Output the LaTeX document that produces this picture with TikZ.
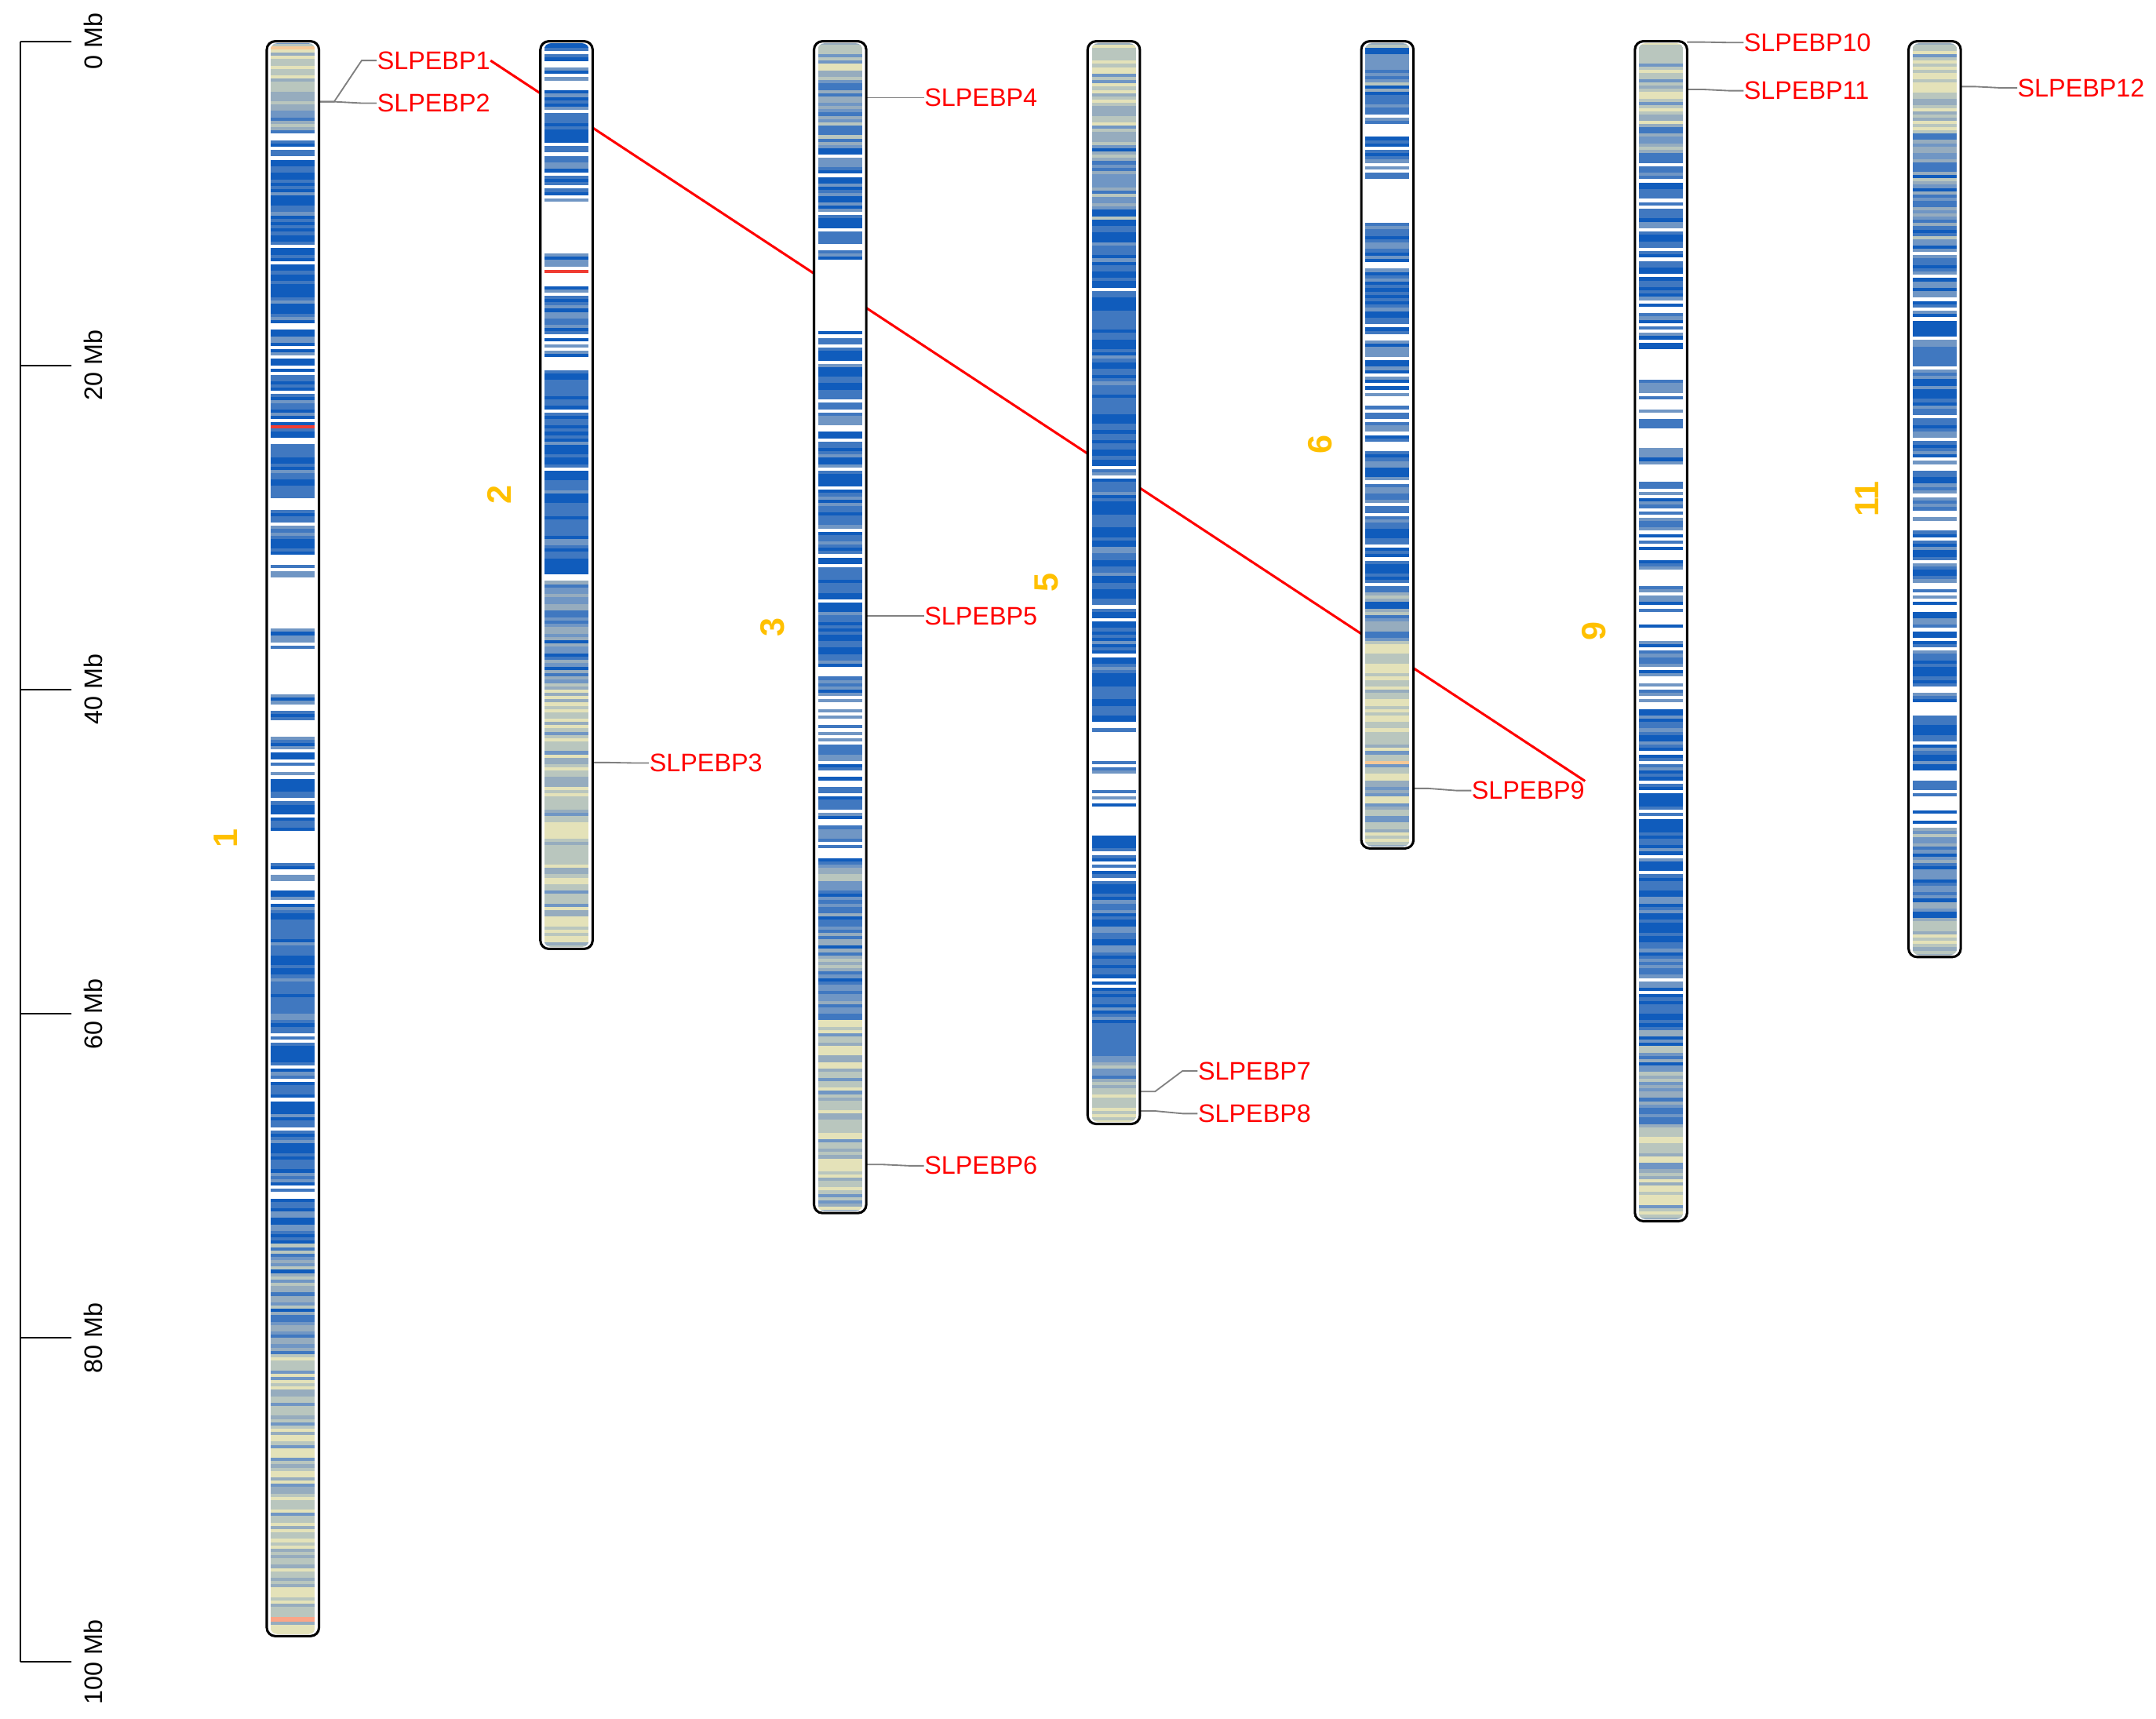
\documentclass[tikz,border=0pt]{standalone}
\usepackage{fontspec}
\setmainfont{Liberation Sans}
\usepackage{tikz}
\usetikzlibrary{calc}
\definecolor{bandD}{RGB}{16,92,188}
\definecolor{bandM}{RGB}{64,120,192}
\definecolor{bandL}{RGB}{112,150,196}
\definecolor{bandG}{RGB}{150,172,190}
\definecolor{bandH}{RGB}{185,198,190}
\definecolor{bandY}{RGB}{228,226,185}
\definecolor{bandO}{RGB}{245,200,150}
\definecolor{bandR}{RGB}{250,165,135}
\definecolor{bandX}{RGB}{240,60,50}
\definecolor{ChrGold}{RGB}{255,192,0}

% density palettes (10 entries each)
\def\palW{{"white","white","white","white","white","white","white","white","white","white"}}
\def\palS{{"white","white","white","white","white","bandD","bandM","bandM","bandL","bandL"}}
\def\palB{{"white","white","bandD","bandD","bandD","bandM","bandM","bandM","bandL","bandL"}}
\def\palD{{"white","bandD","bandD","bandD","bandD","bandM","bandM","bandM","bandL","bandM"}}
\def\palG{{"bandM","bandM","bandL","bandL","bandL","bandG","bandG","bandG","bandH","bandD"}}
\def\palP{{"bandG","bandG","bandH","bandH","bandH","bandY","bandY","bandL","bandH","bandY"}}
\def\palO{{"bandO","bandO","bandO","bandO","bandO","bandO","bandO","bandO","bandO","bandO"}}
\def\palR{{"bandR","bandR","bandR","bandR","bandR","bandR","bandR","bandR","bandR","bandR"}}
\def\palX{{"bandX","bandX","bandX","bandX","bandX","bandX","bandX","bandX","bandX","bandX"}}

% one zone of a chromosome: x, from, to (Mb), palette
\newcommand{\bandzone}[4]{%
  \pgfmathtruncatemacro{\nsl}{max(1,round((#3-#2)/0.2))}%
  \pgfmathsetmacro{\hsl}{(#3-#2)/\nsl}%
  \expandafter\let\expandafter\curpal\csname pal#4\endcsname
  \foreach \k in {1,...,\nsl}{%
    \pgfmathrandominteger{\rr}{0}{9}%
    \pgfmathparse{\curpal[\rr]}\edef\bc{\pgfmathresult}%
    \fill[\bc] (#1+3,{#2+(\k-1)*\hsl}) rectangle (#1+35,{#2+\k*\hsl+0.04});
  }%
}

% chromosome: x, length (Mb), zones, number
\newcommand{\chromo}[4]{%
  \fill[white, rounded corners=3.5pt] (#1,0) rectangle (#1+38,#2);
  \begin{scope}
    \clip[rounded corners=3pt] (#1+2.5,0.12) rectangle (#1+35.5,#2-0.12);
    \foreach \za/\zb/\zp in {#3}{\bandzone{#1}{\za}{\zb}{\zp}}
  \end{scope}
  \draw[chrline] (#1,0) rectangle (#1+38,#2);
  \node[chrnum] (c#4) at (#1-30,#2/2) {#4};
}

\begin{document}
\begin{tikzpicture}[x=0.02cm, y=-0.2358cm,
    chrline/.style={black, line width=1pt, rounded corners=3.5pt},
    chrnum/.style={text=ChrGold, font=\fontsize{14}{16}\selectfont\bfseries, rotate=90, inner sep=0pt},
    gene/.style={text=red, font=\fontsize{10.5}{12}\selectfont, inner sep=0pt, anchor=west},
    genelink/.style={gray, line width=0.6pt},
    synteny/.style={red, line width=1pt},
    scalebar/.style={black, line width=0.7pt},
    mblabel/.style={font=\fontsize{10.5}{12}\selectfont, rotate=90, inner sep=0pt}]
    \useasboundingbox (0,-2.545) rectangle (1568,103.49);
    \pgfmathsetseed{7}

%   scale bar
    \draw[scalebar] (15,0) -- (15,100);
    \foreach \m in {0,20,...,100} {
        \draw[scalebar] (15,\m) -- (52,\m);
        \node[mblabel] (mb\m) at (68,\m) {\m\ Mb};
    }

%   gene positions
    \coordinate (g1) at (232,3.73);
    \coordinate (g2) at (232,3.73);
    \coordinate (g3) at (431,44.5);
    \coordinate (g4) at (630,3.48);
    \coordinate (g5) at (630,35.45);
    \coordinate (g6) at (630,69.3);
    \coordinate (g7) at (829,64.8);
    \coordinate (g8) at (829,66.0);
    \coordinate (g9) at (1028,46.1);
    \coordinate (g10) at (1227,0.05);
    \coordinate (g11) at (1227,2.97);
    \coordinate (g12) at (1426,2.8);

%   gene labels
    \node[gene] (l1) at (274,1.19) {SLPEBP1};
    \node[gene] (l2) at (274,3.82) {SLPEBP2};
    \node[gene] (l3) at (472,44.53) {SLPEBP3};
    \node[gene] (l4) at (672,3.48) {SLPEBP4};
    \node[gene] (l5) at (672,35.45) {SLPEBP5};
    \node[gene] (l6) at (672,69.38) {SLPEBP6};
    \node[gene] (l7) at (871,63.53) {SLPEBP7};
    \node[gene] (l8) at (871,66.16) {SLPEBP8};
    \node[gene] (l9) at (1070,46.23) {SLPEBP9};
    \node[gene] (l10) at (1268,0.08) {SLPEBP10};
    \node[gene] (l11) at (1268,3.05) {SLPEBP11};
    \node[gene] (l12) at (1467,2.88) {SLPEBP12};

    \foreach \i in {1,...,12} {
        \draw[genelink] (g\i) -- ++(11,0) -- ($(l\i.west)+(-11,0)$) -- (l\i.west);
    }

%   segmental duplication
    \draw[synteny] (l1.east) -- (l9.north east);

%   chromosomes
    \chromo{194}{98.4}{0/0.3/P,0.3/0.5/O,0.5/3.3/P,3.3/5.7/G,5.7/6.1/W,6.1/16.8/D,16.8/18/S,18/20.2/B,20.2/23.7/D,23.7/23.9/X,23.9/28.2/D,28.2/28.9/W,28.9/33.3/B,33.3/35.6/W,35.6/37.5/S,37.5/39.3/W,39.3/41.9/S,41.9/42.9/W,42.9/48.7/B,48.7/50.7/W,50.7/51.8/S,51.8/52.4/W,52.4/70.2/D,70.2/71.4/S,71.4/74.2/D,74.2/81/G,81/97.2/P,97.2/97.5/R,97.5/98.4/P}{1}
    \chromo{393}{56}{0/9.9/B,9.9/13.1/W,13.1/14.1/S,14.1/14.3/X,14.3/15.1/W,15.1/19.3/B,19.3/20.3/S,20.3/32.9/D,32.9/33.3/W,33.3/40/G,40/56/P}{2}
    \chromo{592}{72.3}{0/2.4/P,2.4/6.4/G,6.4/13.5/B,13.5/17.9/W,17.9/24.7/B,24.7/38.8/D,38.8/44/S,44/47/B,47/51/S,51/60.4/G,60.4/72.3/P}{3}
    \chromo{791}{66.8}{0/6.4/P,6.4/11/G,11/42.6/D,42.6/44.4/W,44.4/47.6/S,47.6/49/W,49/61/D,61/64.2/G,64.2/66.8/P}{5}
    \chromo{990}{49.8}{0/3.3/G,3.3/8.5/B,8.5/11/W,11/21.9/B,21.9/22.9/S,22.9/29.5/B,29.5/34/D,34/37/G,37/44.4/P,44.4/44.6/O,44.6/49.8/P}{6}
    \chromo{1189}{72.8}{0/5.1/P,5.1/7.5/G,7.5/19.2/B,19.2/20.9/W,20.9/26.1/S,26.1/27/W,27/32.8/S,32.8/33.6/W,33.6/41/S,41/47/B,47/61/D,61/67/G,67/72.8/P}{9}
    \chromo{1388}{56.5}{0/5.5/P,5.5/12.8/G,12.8/27.5/B,27.5/30.2/S,30.2/46.6/B,46.6/48.5/S,48.5/54.3/G,54.3/56.5/P}{11}

\end{tikzpicture}
\end{document}
